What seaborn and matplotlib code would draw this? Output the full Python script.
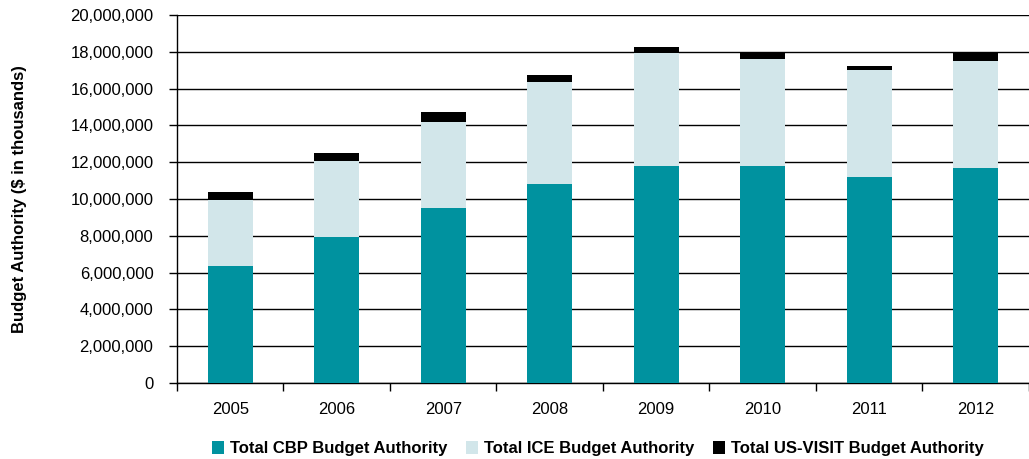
import numpy as np
import pandas as pd
import matplotlib
matplotlib.use('Agg')
import matplotlib.pyplot as plt
import seaborn as sns
from matplotlib.ticker import FuncFormatter, FixedLocator

sns.set_theme(style='white')
plt.rcParams['font.family'] = ['Liberation Sans', 'DejaVu Sans']
plt.rcParams['text.color'] = 'black'
plt.rcParams['xtick.color'] = 'black'
plt.rcParams['ytick.color'] = 'black'
plt.rcParams['axes.labelcolor'] = 'black'

# Datos (miles de dólares)
years = ['2005', '2006', '2007', '2008', '2009', '2010', '2011', '2012']
cbp = [6370000, 7940000, 9510000, 10810000, 11790000, 11790000, 11190000, 11680000]
ice = [3580000, 4120000, 4660000, 5530000, 6140000, 5850000, 5800000, 5800000]
usvisit = [430000, 430000, 550000, 430000, 360000, 380000, 270000, 540000]

labels = ['Total CBP Budget Authority', 'Total ICE Budget Authority',
          'Total US-VISIT Budget Authority']
colors = ['#00929F', '#D2E6EA', '#000000']

df = pd.DataFrame({'Año': years, 'CBP': cbp, 'ICE': ice, 'VISIT': usvisit})
df['n1'] = df['CBP']
df['n2'] = df['CBP'] + df['ICE']
df['n3'] = df['n2'] + df['VISIT']

fig = plt.figure(figsize=(10.29, 4.59), dpi=100)
ax = fig.add_axes([0.172, 0.166, 0.828, 0.801])

# apilar: dibujar primero el total y luego las capas inferiores
for col, color, lab in zip(['n3', 'n2', 'n1'], colors[::-1], labels[::-1]):
    sns.barplot(data=df, x='Año', y=col, color=color, width=0.42,
                saturation=1, ax=ax, label=lab, zorder=3, linewidth=0,
                legend=False)

ax.set_xlim(-0.5, 7.5)
ax.set_ylim(0, 20000000)
ax.set_yticks(np.arange(0, 20000001, 2000000))
ax.yaxis.set_major_formatter(FuncFormatter(lambda v, p: f'{int(v):,}'))
ax.yaxis.grid(True, color='black', linewidth=1.0, zorder=0)
ax.set_axisbelow(True)

for s in ['top', 'right']:
    ax.spines[s].set_visible(False)
for s in ['left', 'bottom']:
    ax.spines[s].set_color('black')
    ax.spines[s].set_linewidth(1.0)

ax.tick_params(axis='y', which='major', left=True, length=6, width=1,
               color='black', labelsize=12, pad=11)
ax.tick_params(axis='x', which='major', bottom=False, labelsize=12, pad=8)
ax.xaxis.set_minor_locator(FixedLocator(np.arange(-0.5, 8, 1)))
ax.tick_params(axis='x', which='minor', bottom=True, length=6, width=1,
               color='black')

ax.set_xlabel('')
ax.set_ylabel('Budget Authority ($ in thousands)', fontsize=12,
              fontweight='bold')
ax.yaxis.set_label_coords(-0.176, 0.5)

handles, labs = ax.get_legend_handles_labels()
order = [labs.index(l) for l in labels]
leg = fig.legend([handles[i] for i in order], [labs[i] for i in order],
                 loc='center', bbox_to_anchor=(0.581, 0.022), ncol=3,
                 frameon=False, handlelength=0.75, handleheight=0.75,
                 handletextpad=0.35, columnspacing=1.1,
                 prop={'weight': 'bold', 'size': 12})

fig.savefig('out.png', dpi=100)
